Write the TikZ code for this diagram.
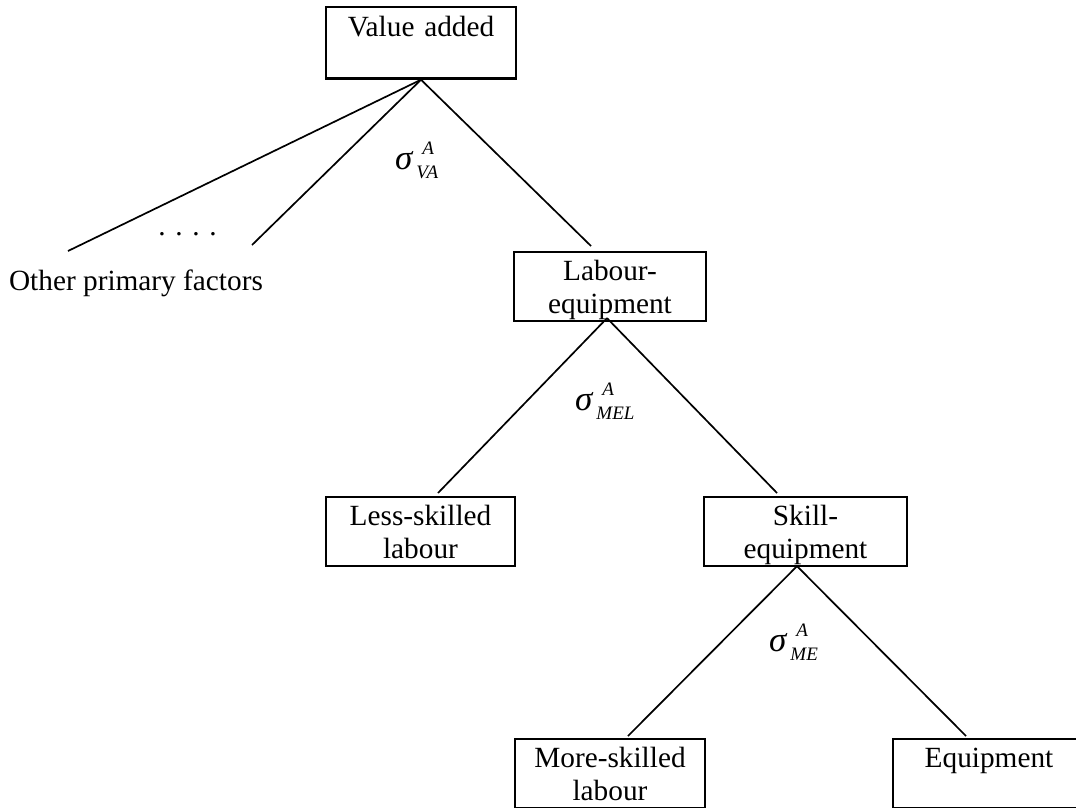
\documentclass[tikz,border=0pt]{standalone}
\usepackage{fontspec}
\setmainfont{Liberation Serif}
\newcommand{\twolines}[2]{\rule{0pt}{28pt}#1\\#2\rule[-8pt]{0pt}{8pt}}
\newcommand{\sigmalab}[1]{{\fontsize{35}{35}\selectfont\itshape σ}\hspace{4pt}{\fontsize{19}{19}\selectfont\itshape
  \rlap{\raisebox{15pt}{\hspace{6pt}A}}\raisebox{-9pt}{#1}}}
\begin{document}
\begin{tikzpicture}[x=1pt,y=-1pt,
  box/.style={draw, line width=2.3pt, inner xsep=0pt, inner ysep=0pt, align=center,
    minimum height=69pt, font=\fontsize{29.3}{33}\selectfont},
  conn/.style={line width=1.7pt},
  lbl/.style={inner sep=0pt, font=\fontsize{29.3}{33}\selectfont}]
\useasboundingbox (0,0) rectangle (1076,807);
\clip (0,0) rectangle (1076,807);
% boxes
\node[box, text width=190pt, minimum height=71.5pt] (va) at (421,42.8) {\twolines{Value added}{}};
\node[box, text width=192pt] (lab) at (610,286.5) {\twolines{Labour-}{equipment}};
\node[box, text width=189pt] (less) at (420.5,531.5) {\twolines{Less-skilled}{labour}};
\node[box, text width=203pt] (skill) at (805.5,531.5) {\twolines{Skill-}{equipment}};
\node[box, text width=190pt] (more) at (610,773.5) {\twolines{More-skilled}{labour}};
\node[box, text width=192pt] (eq) at (989,773.5) {\twolines{Equipment}{}};
% free labels
\node[lbl, anchor=base] (opf) at (136,290) {Other primary factors};
\node[lbl, anchor=base] (dots) at (187.5,235) {.\hspace{9.7pt}.\hspace{9.7pt}.\hspace{9.7pt}.};
\node[lbl, anchor=base west] (s1) at (395,169) {\sigmalab{VA}};
\node[lbl, anchor=base west] (s2) at (575,410) {\sigmalab{MEL}};
\node[lbl, anchor=base west] (s3) at (769,651) {\sigmalab{ME}};
% connector ends
\coordinate (v1) at (68,251);
\coordinate (v2) at (252,245);
\coordinate (v3) at (591,246);
\coordinate (l1) at (438,493);
\coordinate (l2) at (777,493);
\coordinate (k1) at (628,736);
\coordinate (k2) at (966,736);
% connectors
\draw[conn] (va.south) -- (v1);
\draw[conn] (va.south) -- (v2);
\draw[conn] (va.south) -- (v3);
\draw[conn] ([xshift=-3pt,yshift=4pt]lab.south) -- (l1);
\draw[conn] ([xshift=-3pt,yshift=4pt]lab.south) -- (l2);
\draw[conn] ([xshift=-8.5pt,yshift=1pt]skill.south) -- (k1);
\draw[conn] ([xshift=-8.5pt,yshift=1pt]skill.south) -- (k2);
\end{tikzpicture}
\end{document}
